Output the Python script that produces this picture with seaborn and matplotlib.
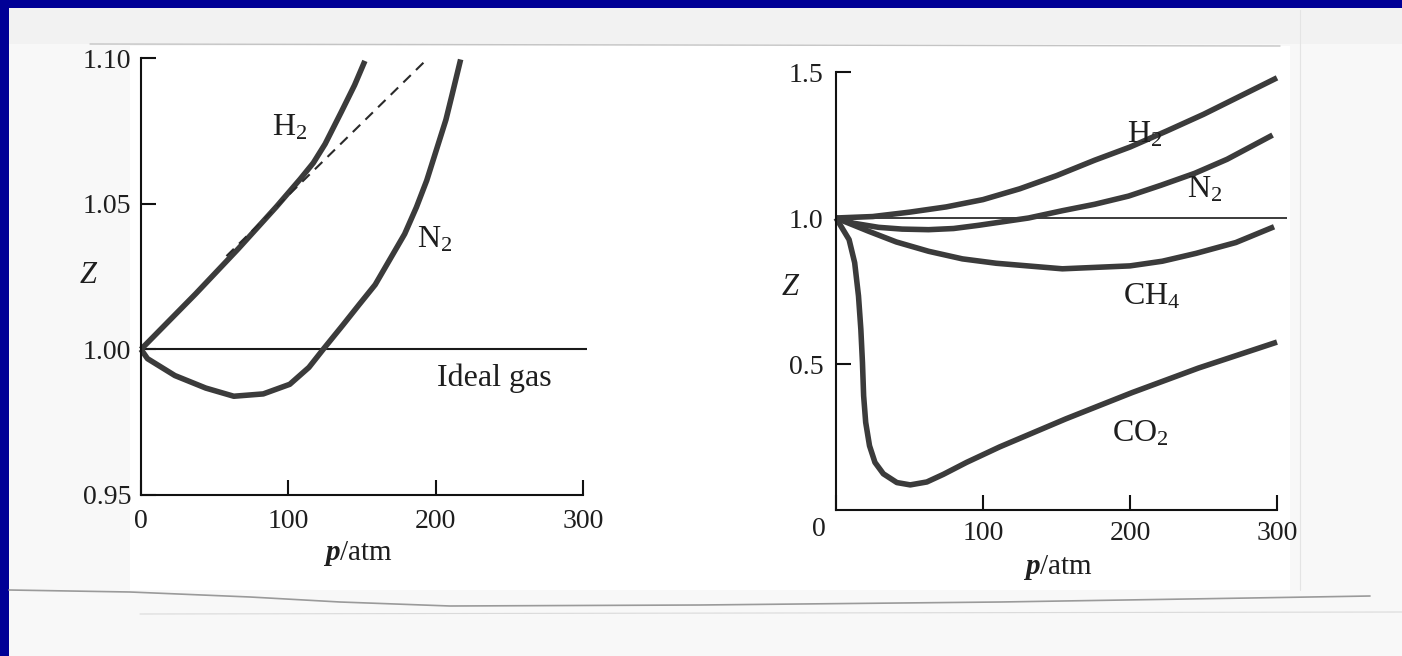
import matplotlib
matplotlib.use("Agg")
import matplotlib.pyplot as plt
from matplotlib.lines import Line2D
from matplotlib.patches import Rectangle
from matplotlib.transforms import ScaledTranslation
import seaborn as sns

# ---- compressibility factor Z vs pressure ----
# left panel (0 to 300 atm, fine Z scale)
h2_left_p = [0, 37, 66, 92, 108, 117, 125, 136, 145, 152]
h2_left_z = [1.000, 1.019, 1.0345, 1.049, 1.0584, 1.064, 1.0705, 1.0815, 1.0907, 1.099]

n2_left_p = [0, 4.4, 23, 44, 63, 83, 101, 114, 124, 137, 148, 159, 179, 187,
             194, 207, 211, 217]
n2_left_z = [1.000, 0.9968, 0.991, 0.9867, 0.9839, 0.9847, 0.988, 0.9938, 1.0002,
             1.0083, 1.0153, 1.0222, 1.0396, 1.0488, 1.058, 1.0788, 1.0870, 1.0995]

dashed_p = [58, 195]
dashed_z = [1.032, 1.100]

ideal_left_p = [0, 303]
ideal_z = [1.0, 1.0]

# right panel (0 to 300 atm, wide Z scale)
h2_right_p = [0, 25, 50, 75, 100, 125, 150, 176, 200, 225, 250, 266, 300]
h2_right_z = [1.0, 1.005, 1.02, 1.038, 1.063, 1.1, 1.145, 1.198, 1.243, 1.298,
              1.355, 1.395, 1.48]

n2_right_p = [0, 12, 29, 45, 63, 80, 97, 131, 154, 176, 199, 221, 244, 266, 297]
n2_right_z = [1.0, 0.982, 0.968, 0.962, 0.960, 0.964, 0.975, 1.0, 1.025, 1.047,
              1.075, 1.112, 1.153, 1.201, 1.284]

ch4_p = [0, 22, 41, 63, 86, 109, 154, 200, 222, 245, 272, 298]
ch4_z = [1.0, 0.955, 0.918, 0.886, 0.860, 0.845, 0.826, 0.836, 0.852, 0.879, 0.916, 0.970]

co2_p = [0, 8.9, 12.7, 15.3, 16.9, 18, 18.8, 20.2, 22.8, 26.5, 32.2, 41.4, 50.5,
         61.8, 73, 88.8, 111.3, 156.3, 201.4, 246.5, 300]
co2_z = [1.0, 0.926, 0.847, 0.733, 0.619, 0.505, 0.391, 0.300, 0.220, 0.163, 0.124,
         0.094, 0.086, 0.096, 0.122, 0.163, 0.216, 0.312, 0.402, 0.486, 0.575]

ideal_right_p = [0, 307]

left_yticks = [0.95, 1.00, 1.05, 1.10]
left_yticklabels = ["0.95", "1.00", "1.05", "1.10"]
right_yticks = [0.5, 1.0, 1.5]
right_yticklabels = ["0.5", "1.0", "1.5"]
xticks = [0, 100, 200, 300]
xticklabels = ["0", "100", "200", "300"]

# ---- style ----
sns.set_theme(style="white")
plt.rcParams["font.family"] = ["Liberation Serif", "DejaVu Serif"]
plt.rcParams["mathtext.fontset"] = "custom"
plt.rcParams["mathtext.rm"] = "Liberation Serif"
plt.rcParams["mathtext.it"] = "Liberation Serif:italic:bold"
plt.rcParams["mathtext.bf"] = "Liberation Serif:bold"

W, H = 1402, 656
fig = plt.figure(figsize=(W / 100, H / 100), dpi=100)
fig.patch.set_facecolor("#000096")


def fx(x):
    return x / W


def fy(y):
    return 1 - y / H


# the scanned sheet
fig.add_artist(Rectangle((fx(9), 0), (W - 9) / W, (H - 8) / H, transform=fig.transFigure,
                         facecolor="#f8f8f8", edgecolor="none", zorder=0))
fig.add_artist(Rectangle((fx(130), fy(590)), (1290 - 130) / W, (590 - 46) / H,
                         transform=fig.transFigure, facecolor="#ffffff", edgecolor="none",
                         zorder=0))
fig.add_artist(Rectangle((fx(9), fy(44)), (W - 9) / W, 36 / H, transform=fig.transFigure,
                         facecolor="#f2f2f2", edgecolor="none", zorder=0))
# faint rule along the top of the sheet
fig.add_artist(Line2D([fx(90), fx(1280)], [fy(44), fy(46)], transform=fig.transFigure,
                      color="#c4c4c4", lw=1.0, zorder=1))
# folded edge near the bottom
bx = [9, 130, 250, 340, 450, 700, 1000, 1250, 1370]
by = [590, 592, 597, 602, 606, 605, 602, 598, 596]
fig.add_artist(Line2D([fx(v) for v in bx], [fy(v) for v in by], transform=fig.transFigure,
                      color="#9a9a9a", lw=1.2, zorder=1))
fig.add_artist(Line2D([fx(140), 1.0], [fy(614), fy(612)], transform=fig.transFigure,
                      color="#dadada", lw=0.8, zorder=1))
fig.add_artist(Line2D([fx(1300), fx(1300)], [fy(10), fy(590)], transform=fig.transFigure,
                      color="#e4e4e4", lw=0.8, zorder=1))

CURVE = "#3b3b3b"
INK = "#1e1e1e"
LW = 4.0
TICK_FS = 20
LABEL_FS = 23


def style_axes(ax):
    ax.set_facecolor("none")
    for s in ("top", "right"):
        ax.spines[s].set_visible(False)
    for s in ("left", "bottom"):
        ax.spines[s].set_color("#111111")
        ax.spines[s].set_linewidth(1.5)
    ax.tick_params(axis="both", which="major", bottom=True, left=True, direction="in",
                   length=11, width=1.5, color="#111111", labelsize=TICK_FS,
                   labelcolor=INK)
    ax.tick_params(axis="x", pad=10)
    ax.tick_params(axis="y", pad=7)


def curve(ax, p, z, **kw):
    line_kw = dict(color=CURVE, lw=LW, sort=False, clip_on=False,
                   solid_capstyle="butt", solid_joinstyle="round")
    line_kw.update(kw)
    sns.lineplot(x=p, y=z, ax=ax, **line_kw)


# ---- left panel ----
axL = fig.add_axes([fx(141), fy(495), 441.9 / W, 437 / H])
style_axes(axL)
curve(axL, ideal_left_p, ideal_z, color="#1a1a1a", lw=1.5)
curve(axL, h2_left_p, h2_left_z)
curve(axL, n2_left_p, n2_left_z)
sns.lineplot(x=dashed_p, y=dashed_z, ax=axL, color="#2a2a2a", lw=1.5, clip_on=False,
             linestyle=(0, (5, 3.5)))
axL.set_xlim(0, 300)
axL.set_ylim(0.95, 1.10)
axL.set_xticks(xticks, xticklabels)
axL.set_yticks(left_yticks, left_yticklabels)
axL.set_xlabel(r"$p$/atm", fontsize=21, color=INK)
axL.xaxis.set_label_coords(0.491, -0.133)
axL.xaxis.label.set_va("center")
axL.set_ylabel("Z", fontsize=22, fontstyle="italic", rotation=0, color=INK)
axL.yaxis.set_label_coords(-0.12, 0.503)
axL.yaxis.label.set_va("center")
axL.yaxis.label.set_ha("center")

axL.text(101, 1.076, r"H$_2$", fontsize=LABEL_FS, ha="center", va="center", color=INK)
axL.text(199.6, 1.0375, r"N$_2$", fontsize=LABEL_FS, ha="center", va="center", color=INK)
axL.text(239.6, 0.990, "Ideal gas", fontsize=LABEL_FS, ha="center", va="center", color=INK)

# ---- right panel ----
axR = fig.add_axes([fx(836), fy(510), 441 / W, 438 / H])
style_axes(axR)
curve(axR, ideal_right_p, ideal_z, color="#1a1a1a", lw=1.2)
for pp, zz in ((h2_right_p, h2_right_z), (n2_right_p, n2_right_z),
               (ch4_p, ch4_z), (co2_p, co2_z)):
    curve(axR, pp, zz)
axR.set_xlim(0, 300)
axR.set_ylim(0, 1.5)
axR.set_xticks(xticks, xticklabels)
axR.set_yticks(right_yticks, right_yticklabels)
axR.tick_params(axis="y", pad=9)
axR.tick_params(axis="x", pad=8)
# the zero sits a little left of the corner
zero_lbl = axR.get_xticklabels()[0]
zero_lbl.set_transform(zero_lbl.get_transform() +
                       ScaledTranslation(-0.17, 0.04, fig.dpi_scale_trans))
axR.set_xlabel(r"$p$/atm", fontsize=21, color=INK)
axR.xaxis.set_label_coords(0.503, -0.132)
axR.xaxis.label.set_va("center")
axR.set_ylabel("Z", fontsize=22, fontstyle="italic", rotation=0, color=INK)
axR.yaxis.set_label_coords(-0.104, 0.509)
axR.yaxis.label.set_va("center")
axR.yaxis.label.set_ha("center")

axR.text(210, 1.285, r"H$_2$", fontsize=LABEL_FS, ha="center", va="center", color=INK)
axR.text(251, 1.096, r"N$_2$", fontsize=LABEL_FS, ha="center", va="center", color=INK)
axR.text(215, 0.732, r"CH$_4$", fontsize=LABEL_FS, ha="center", va="center", color=INK)
axR.text(207, 0.261, r"CO$_2$", fontsize=LABEL_FS, ha="center", va="center", color=INK)

fig.savefig("out.png", dpi=100, facecolor=fig.get_facecolor())
